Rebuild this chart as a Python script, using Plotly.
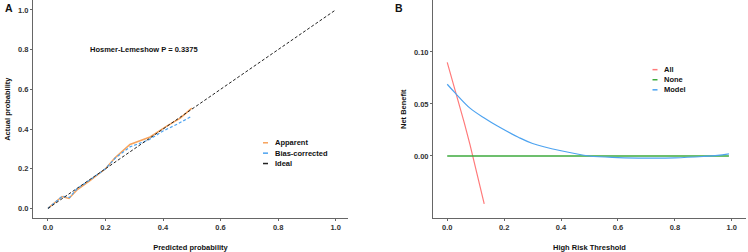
import plotly.graph_objects as go

# ---- Panel A: calibration ----
ideal_x = [0.0, 1.0]
ideal_y = [0.0, 1.0]
apparent_x = [0.0, 0.03, 0.049, 0.073, 0.10, 0.146, 0.20, 0.233, 0.285, 0.355, 0.413, 0.46, 0.50]
apparent_y = [0.0, 0.035, 0.060, 0.050, 0.092, 0.140, 0.200, 0.255, 0.322, 0.360, 0.415, 0.455, 0.505]
bias_x = [0.0, 0.03, 0.05, 0.075, 0.10, 0.15, 0.20, 0.235, 0.285, 0.35, 0.40, 0.45, 0.50]
bias_y = [0.0, 0.037, 0.062, 0.055, 0.098, 0.148, 0.200, 0.255, 0.310, 0.345, 0.390, 0.425, 0.465]
hl_text = "Hosmer-Lemeshow P = 0.3375"
names_a = ["Apparent", "Bias-corrected", "Ideal"]

# ---- Panel B: decision curve ----
all_x = [0.0, 0.02, 0.04, 0.06, 0.08, 0.10, 0.12, 0.13]
all_y = [0.090, 0.0714, 0.0521, 0.0319, 0.0109, -0.0111, -0.0341, -0.0460]
none_x = [0.0, 0.99]
none_y = [0.0, 0.0]
model_x = [0.0, 0.03, 0.08, 0.133, 0.175, 0.25, 0.30, 0.40, 0.50, 0.60, 0.70, 0.80, 0.90, 0.95, 0.99]
model_y = [0.069, 0.060, 0.046, 0.036, 0.029, 0.018, 0.012, 0.005, 0.000, -0.0015, -0.002, -0.0018, -0.0005, 0.0005, 0.002]
names_b = ["All", "None", "Model"]

tick_x = [0.0, 0.2, 0.4, 0.6, 0.8, 1.0]
tick_x_lab = ["0.0", "0.2", "0.4", "0.6", "0.8", "1.0"]
tick_ya = [0.0, 0.2, 0.4, 0.6, 0.8, 1.0]
tick_ya_lab = ["0.0", "0.2", "0.4", "0.6", "0.8", "1.0"]
tick_yb = [0.0, 0.05, 0.10]
tick_yb_lab = ["0.00", "0.05", "0.10"]

FONT = "Liberation Sans, Arial, sans-serif"
W, H = 748, 252

col_a = ["#F7A35C", "#4DA3F0", "#222222"]
dash_a = ["solid", "3px,2px", "3px,2px"]
width_a = [1.5, 1.2, 1.0]
col_b = ["#FF7A7A", "#3DAA3D", "#4DA3F0"]
width_b = [1.2, 1.5, 1.2]

fig = go.Figure()
for (xs, ys), nm, c, d, w in zip([(apparent_x, apparent_y), (bias_x, bias_y), (ideal_x, ideal_y)],
                                 names_a, col_a, dash_a, width_a):
    fig.add_trace(go.Scatter(x=xs, y=ys, mode="lines", name=nm, showlegend=False,
                             line=dict(color=c, width=w, dash=d), xaxis="x", yaxis="y"))
for (xs, ys), nm, c, w in zip([(all_x, all_y), (none_x, none_y), (model_x, model_y)],
                              names_b, col_b, width_b):
    fig.add_trace(go.Scatter(x=xs, y=ys, mode="lines", name=nm, showlegend=False,
                             line_shape="spline" if nm == "Model" else "linear",
                             line=dict(color=c, width=w), xaxis="x2", yaxis="y2"))

axis_common = dict(showgrid=False, zeroline=False, showline=True, linecolor="#666666", linewidth=1,
                   ticks="outside", ticklen=2, tickcolor="#666666",
                   tickfont=dict(family=FONT, size=7.5, color="#333333", weight="bold"),
                   title_font=dict(family=FONT, size=7.5, color="#111111", weight="bold"))

ydom = [1 - 221 / H, 1.0]
fig.update_layout(
    width=W, height=H, margin=dict(l=0, r=0, t=0, b=0),
    paper_bgcolor="white", plot_bgcolor="white", showlegend=False,
    xaxis=dict(domain=[33 / W, 348 / W], range=[-0.052, 1.043], tickvals=tick_x, ticktext=tick_x_lab,
               anchor="y", title=dict(text="Predicted probability", standoff=14), **axis_common),
    yaxis=dict(domain=ydom, range=[-0.05, 1.05], tickvals=tick_ya, ticktext=tick_ya_lab,
               anchor="x", title=dict(text="Actual probability", standoff=6), **axis_common),
    xaxis2=dict(domain=[433 / W, 746 / W], range=[-0.05, 1.05], tickvals=tick_x, ticktext=tick_x_lab,
                anchor="y2", title=dict(text="High Risk Threshold", standoff=14), **axis_common),
    yaxis2=dict(domain=ydom, range=[-0.06, 0.15], tickvals=tick_yb, ticktext=tick_yb_lab,
                anchor="x2", title=dict(text="Net Benefit", standoff=6), **axis_common),
)

# compact legends (key + label), in pixel layout converted to paper coords
def add_key(names, colors, dashes, x_sym, y_top, gap):
    for i, (nm, c, d) in enumerate(zip(names, colors, dashes)):
        yp = y_top + i * gap
        fig.add_shape(type="line", xref="paper", yref="paper",
                      x0=(x_sym - 2.5) / W, x1=(x_sym + 2.5) / W, y0=1 - yp / H, y1=1 - yp / H,
                      line=dict(color=c, width=1.5))
        fig.add_annotation(x=(x_sym + 7) / W, y=1 - yp / H, xref="paper", yref="paper", text=nm,
                           showarrow=False, xanchor="left", yanchor="middle",
                           font=dict(family=FONT, size=7.5, color="#111111", weight="bold"))

add_key(names_a, col_a, dash_a, 265.5, 144.5, 10.5)
add_key(names_b, col_b, ["solid"] * 3, 655, 70.5, 10.2)

fig.add_annotation(x=0.14, y=0.8, xref="x", yref="y", text=hl_text, showarrow=False, xanchor="left",
                   font=dict(family=FONT, size=7.5, color="#111111", weight="bold"))
fig.add_annotation(x=3 / W, y=1.0, xref="paper", yref="paper", text="A", showarrow=False,
                   xanchor="left", yanchor="top", font=dict(family=FONT, size=10.5, color="#111111", weight="bold"))
fig.add_annotation(x=393 / W, y=1.0, xref="paper", yref="paper", text="B", showarrow=False,
                   xanchor="left", yanchor="top", font=dict(family=FONT, size=10.5, color="#111111", weight="bold"))

fig.write_html("out.html")
